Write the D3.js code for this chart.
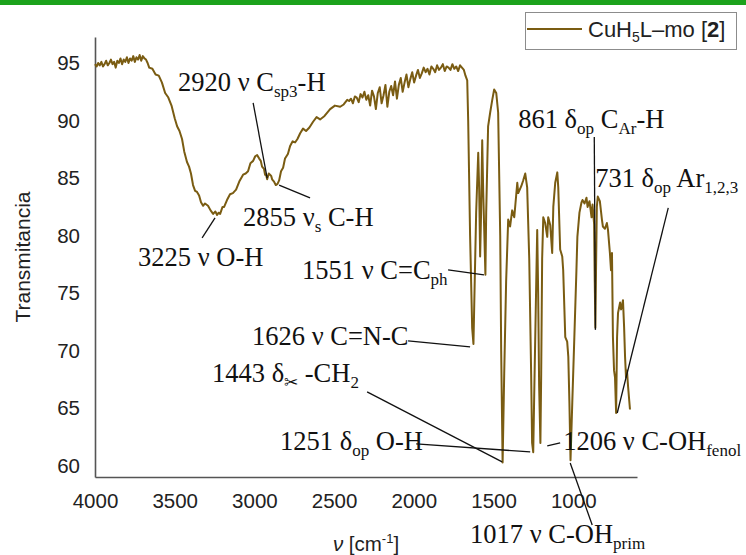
<!DOCTYPE html>
<html>
<head>
<meta charset="utf-8">
<script src="https://cdn.jsdelivr.net/npm/d3@7"></script>
<style>
  body { margin: 0; background: #fff; }
  svg { display: block; }
</style>
</head>
<body>
<svg id="chart" width="746" height="555"></svg>
<script>
// FT-IR spectrum of CuH5L–mo [2]: wavenumber (cm⁻¹) vs. transmittance (%)
const wavenumbers = [
  4000,3990,3980,3970,3960,3950,3940,3930,3920,3910,3900,3890,3880,3870,3860,3850,3840,3830,3820,3810,
  3800,3790,3780,3770,3760,3750,3740,3730,3720,3710,3700,3690,3680,3670,3660,
  3640,3620,3600,3580,3560,3540,3520,3500,3485,3470,3454,3440,3423,3410,3398,3385,3372,3360,3347,3335,
  3322,3310,3291,3275,3259,3245,3234,3225,3215,
  3200,3190,3172,3153,3135,3115,3095,3071,3055,3040,3025,3008,2995,2983,2970,2960,2952,2940,2933,2925,
  2920,2910,2902,2895,2889,2877,2866,2855,2845,2833,2820,2808,2790,2776,2760,2745,2730,2713,2695,2676,
  2655,2632,2610,2588,2560,2525,2495,2462,2440,2418,
  2406,2394,2382,2370,2358,2346,2334,2322,2310,2298,2286,2274,2262,2250,2238,2226,2214,2202,2190,2178,
  2166,2154,2142,2130,2118,2106,2094,2082,2070,2058,2046,2034,2022,2010,1998,1986,1974,1962,1950,1938,
  1926,1914,1902,1890,1878,1866,1854,1842,1830,1818,1806,1794,1782,1770,1758,1746,1734,1722,1710,1698,
  1686,1676,
  1665,1659,1647,1634,1626,1621,1609,1596,1590,1584,1578,1571,1565,1551,1546,1534,1521,1508,1496,1483,
  1471,1458,1452,1443,1433,1421,1408,1396,1383,1370,1351,1345,1326,1314,1301,1289,1276,1264,1258,1251,
  1245,1232,1226,1220,1214,1206,1201,1195,1188,1176,1163,1157,1144,1132,1125,1113,1100,1094,1082,1069,
  1063,1050,1038,1031,1024,1017,1006,993,980,974,961,948,942,929,917,910,898,885,879,869,
  865,861,857,852,846,833,820,814,801,789,782,770,763,757,751,744,738,731,725,719,
  706,700,694,688,681,675,669,663,656,644
];
const transmittance = [
  94.9,94.7,95.0,94.8,95.1,94.7,94.9,95.2,94.8,95.0,95.3,94.9,95.1,94.6,95.2,95.0,95.4,94.9,95.3,95.1,
  95.5,95.0,95.4,95.2,95.6,95.1,95.5,95.3,95.7,95.2,95.6,95.4,95.3,95.0,94.6,
  94.5,94.0,93.9,93.3,92.4,92.0,91.3,90.2,89.5,89.1,88.4,87.3,86.4,86.0,85.4,84.4,83.9,83.8,83.5,82.9,
  82.6,82.8,82.6,82.2,81.9,82.1,81.8,82.0,81.9,
  82.5,82.5,83.1,83.6,83.7,84.0,84.7,85.3,85.4,85.6,86.3,86.5,86.9,87.0,86.7,86.5,86.0,85.8,85.3,85.2,
  84.9,85.4,85.3,85.2,84.9,84.7,84.4,84.5,84.8,85.6,85.9,86.7,87.1,87.8,88.2,88.1,88.4,88.9,89.3,89.1,
  89.4,89.9,90.3,90.1,90.4,91.0,91.3,91.2,91.4,91.8,
  91.7,91.9,91.5,92.1,92.0,91.6,92.3,92.0,92.5,91.8,92.2,91.3,92.6,92.1,91.0,92.4,92.9,91.5,92.2,93.1,
  91.2,92.5,93.0,92.2,93.4,91.9,93.1,93.7,92.5,93.3,94.0,92.9,93.6,94.2,93.3,93.9,94.4,93.7,94.1,94.6,
  94.2,94.5,94.0,94.7,94.5,94.2,94.8,94.4,94.6,94.9,94.3,94.7,94.6,94.4,94.9,94.5,94.7,94.3,94.8,94.6,
  94.4,93.9,
  93.5,90.0,80.0,72.0,70.6,74.0,82.0,87.2,84.0,78.2,82.0,88.3,84.0,76.6,82.0,89.5,90.7,91.8,92.7,92.4,
  90.7,80.0,70.0,60.3,68.0,76.0,81.4,80.8,82.2,81.6,84.6,83.7,84.3,84.8,85.4,84.2,78.0,68.0,62.0,61.2,
  66.0,76.0,80.5,75.0,67.0,62.0,68.0,78.0,81.6,81.1,79.9,81.6,80.9,78.5,82.5,84.6,85.5,84.2,78.8,78.2,
  77.0,71.2,70.8,69.5,65.5,60.5,65.5,71.2,77.0,79.9,82.0,82.9,83.1,82.8,83.3,82.5,83.0,81.6,82.7,81.0,
  76.0,72.0,77.0,82.5,83.4,83.0,81.4,80.8,80.6,81.1,80.5,78.5,77.0,78.5,71.2,68.3,67.7,64.6,71.2,73.3,
  74.2,73.6,73.9,74.4,72.1,69.5,67.7,68.3,66.9,64.9
];

const xTicks = [4000, 3500, 3000, 2500, 2000, 1500, 1000];
const yTicks = [60, 65, 70, 75, 80, 85, 90, 95];
const seriesName = ["CuH", "5", "L–mo [", "2", "]"];

// Band assignments: text pieces ("sub" = subscript)
const bandText = [
  [["2920 ν C"], ["sp3", "sub"], ["-H"]],
  [["2855 ν"], ["s", "sub"], [" C-H"]],
  [["3225 ν O-H"]],
  [["1551 ν C=C"], ["ph", "sub"]],
  [["1626 ν C=N-C"]],
  [["1443 δ"], ["✂", "sub"], [" -CH"], ["2", "sub"]],
  [["1251 δ"], ["op", "sub"], [" O-H"]],
  [["1206 ν C-OH"], ["fenol", "sub"]],
  [["1017 ν C-OH"], ["prim", "sub"]],
  [["861 δ"], ["op", "sub"], [" C"], ["Ar", "sub"], ["-H"]],
  [["731 δ"], ["op", "sub"], [" Ar"], ["1,2,3", "sub"]]
];
// Label anchors and leader lines, in data units [wavenumber, transmittance]
const labelAt = [
  [3479, 92.58], [3071, 80.85], [3730, 77.38], [2701, 76.25], [3015, 70.51], [3266, 67.30],
  [2839, 61.39], [1063, 61.39], [1647, 53.35], [1345, 89.37], [862, 84.24]
];
const leaderFrom = [
  [3008, 91.54], [2651, 83.28], [3328, 79.81], [1785, 77.03], [2036, 70.86], [2293, 66.43],
  [1985, 61.91], [1163, 61.74], [1019, 60.26], [868, 88.58], [404, 82.42]
];
const leaderTo = [
  [2920, 85.0], [2845, 84.4], [3247, 81.55], [1560, 76.6], [1647, 70.34], [1446, 60.35],
  [1270, 61.22], [1082, 62.0], [881, 54.87], [861, 71.82], [724, 64.6]
];

const svg = d3.select("#chart");
const W = 746, H = 555;
const lineColor = "#7a5c12";

svg.append("rect").attr("width", W).attr("height", H).attr("fill", "#fff");
svg.append("rect").attr("x", 0).attr("y", 0).attr("width", W).attr("height", 5).attr("fill", "#1ca21c");

const x = d3.scaleLinear().domain([4000, 600]).range([95, 637]);
const y = d3.scaleLinear().domain([59.04, 97.26]).range([477, 37]);

const sans = "'Liberation Sans', Arial, sans-serif";
const serif = "'Liberation Serif', 'Times New Roman', serif";

// axes
const xAxis = svg.append("g").attr("transform", `translate(0,${y.range()[0]})`)
  .call(d3.axisBottom(x).tickValues(xTicks).tickFormat(d3.format("d")).tickSizeInner(0).tickSizeOuter(0).tickPadding(16));
const yAxis = svg.append("g").attr("transform", `translate(${x.range()[0]},0)`)
  .call(d3.axisLeft(y).tickValues(yTicks).tickFormat(d3.format("d")).tickSizeInner(0).tickSizeOuter(0).tickPadding(15));
[xAxis, yAxis].forEach(g => {
  g.select(".domain").attr("stroke", "#555").attr("stroke-width", 1.6);
  g.selectAll("text").attr("font-family", sans).attr("font-size", 20.5).attr("fill", "#222");
});

// axis titles
svg.append("text")
  .attr("transform", `translate(30,${(y.range()[0] + y.range()[1]) / 2}) rotate(-90)`)
  .attr("text-anchor", "middle").attr("font-family", sans).attr("font-size", 21).attr("fill", "#222")
  .text("Transmitancia");
const xt = svg.append("text")
  .attr("x", (x.range()[0] + x.range()[1]) / 2).attr("y", 551)
  .attr("text-anchor", "middle").attr("font-family", sans).attr("font-size", 20.5).attr("fill", "#222");
xt.append("tspan").attr("font-style", "italic").text("ν");
xt.append("tspan").text(" [cm");
xt.append("tspan").attr("font-size", 13).attr("dy", -8).text("-1");
xt.append("tspan").attr("dy", 8).text("]");

// spectrum
const pts = wavenumbers.map((w, i) => [w, transmittance[i]]);
svg.append("path")
  .datum(pts)
  .attr("fill", "none").attr("stroke", lineColor).attr("stroke-width", 2).attr("stroke-linejoin", "round")
  .attr("d", d3.line().x(d => x(d[0])).y(d => y(d[1])));

// band leaders and labels
const ann = svg.append("g");
bandText.forEach((parts, i) => {
  ann.append("line")
    .attr("x1", x(leaderFrom[i][0])).attr("y1", y(leaderFrom[i][1]))
    .attr("x2", x(leaderTo[i][0])).attr("y2", y(leaderTo[i][1]))
    .attr("stroke", "#111").attr("stroke-width", 1.3);
  const t = ann.append("text")
    .attr("x", x(labelAt[i][0])).attr("y", y(labelAt[i][1]))
    .attr("font-family", serif).attr("font-size", 26.5).attr("fill", "#111");
  let shift = 0;
  parts.forEach(([s, kind]) => {
    const target = kind === "sub" ? 6 : 0;
    const ts = t.append("tspan").attr("dy", target - shift).text(s);
    if (kind === "sub") ts.attr("font-size", 17);
    shift = target;
  });
});

// legend
const lg = svg.append("g");
lg.append("rect").attr("x", 525.5).attr("y", 12.5).attr("width", 211).attr("height", 37)
  .attr("fill", "#fff").attr("stroke", "#8c8c8c").attr("stroke-width", 1);
lg.append("line").attr("x1", 527).attr("x2", 582).attr("y1", 29).attr("y2", 29)
  .attr("stroke", lineColor).attr("stroke-width", 2);
const lt = lg.append("text").attr("x", 588).attr("y", 37)
  .attr("font-family", sans).attr("font-size", 22).attr("fill", "#222");
lt.append("tspan").text(seriesName[0]);
lt.append("tspan").attr("font-size", 14).attr("dy", 5).text(seriesName[1]);
lt.append("tspan").attr("dy", -5).text(seriesName[2]);
lt.append("tspan").attr("font-weight", "bold").text(seriesName[3]);
lt.append("tspan").text(seriesName[4]);
</script>
</body>
</html>
